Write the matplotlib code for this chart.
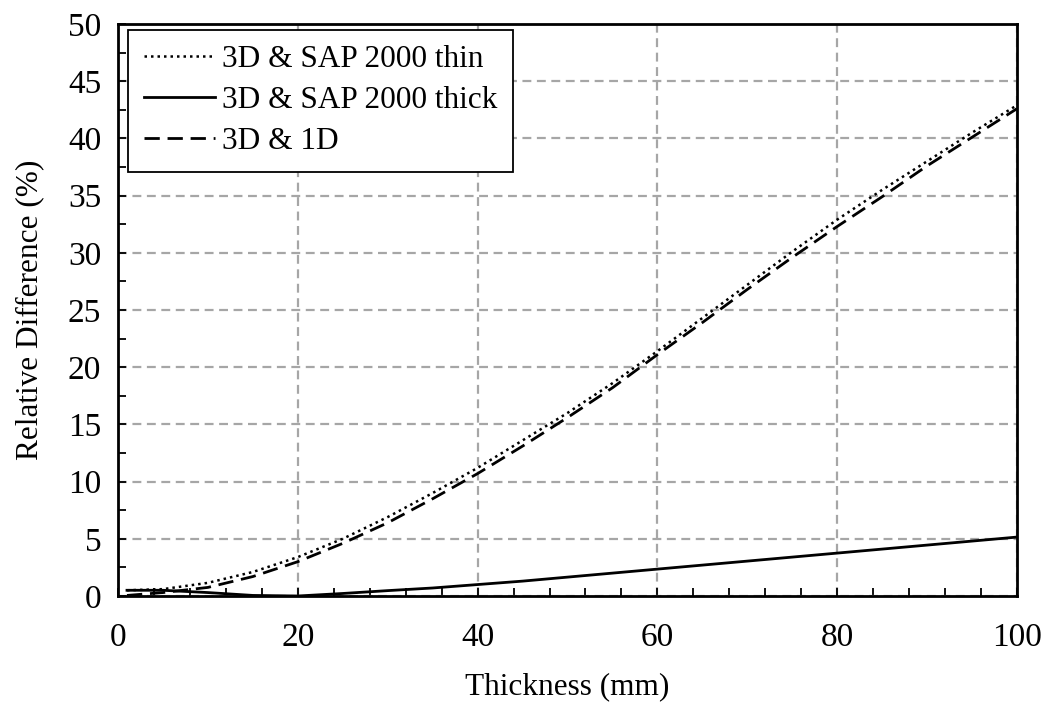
import matplotlib
matplotlib.use("Agg")
import matplotlib.pyplot as plt
from matplotlib.ticker import MultipleLocator

# Plate thickness (mm) and relative differences (%) between models
thickness = [1, 5, 10, 15, 20, 25, 30, 35, 40, 45, 50, 55, 60, 65, 70, 75, 80, 85, 90, 95, 100]
sap_thin = [0.5, 0.6, 1.15, 2.1, 3.4, 5.0, 6.9, 9.0, 11.2, 13.6, 16.0, 18.6, 21.4, 24.3,
            27.2, 30.1, 32.9, 35.5, 38.0, 40.5, 42.9]
sap_thick = [0.5, 0.5, 0.3, 0.05, 0.0, 0.22, 0.47, 0.7, 1.0, 1.3, 1.65, 2.0, 2.35, 2.7,
             3.05, 3.4, 3.75, 4.1, 4.45, 4.8, 5.15]
model_1d = [0.05, 0.3, 0.75, 1.7, 3.0, 4.6, 6.4, 8.5, 10.7, 13.1, 15.6, 18.2, 21.1, 23.9,
            26.8, 29.6, 32.3, 34.9, 37.6, 40.1, 42.6]

labels = ["3D & SAP 2000 thin", "3D & SAP 2000 thick", "3D & 1D"]

FS = 22.5
TICK_FS = 24
plt.rcParams["font.family"] = ["Liberation Serif", "DejaVu Serif"]
plt.rcParams["font.size"] = FS

fig = plt.figure(figsize=(10.48, 7.02), dpi=100)
ax = fig.add_axes([0.1126, 0.151, 0.8578, 0.8148])

ax.plot(thickness, sap_thin, color="black", lw=1.8, linestyle=(0, (1, 1.6)), label=labels[0])
ax.plot(thickness, sap_thick, color="black", lw=2.0, linestyle="-", label=labels[1])
ax.plot(thickness, model_1d, color="black", lw=2.0, linestyle=(0, (5.5, 2.8)), label=labels[2])

ax.set_xlim(0, 100)
ax.set_ylim(0, 50)
ax.xaxis.set_major_locator(MultipleLocator(20))
ax.xaxis.set_minor_locator(MultipleLocator(4))
ax.yaxis.set_major_locator(MultipleLocator(5))
ax.yaxis.set_minor_locator(MultipleLocator(2.5))

ax.tick_params(axis="x", which="both", direction="in", top=False, pad=19, labelsize=TICK_FS)
ax.tick_params(axis="y", which="both", direction="in", right=False, pad=12, labelsize=TICK_FS)
ax.tick_params(which="both", length=6, width=1.3)

ax.grid(True, which="major", color="#A6A6A6", linestyle=(0, (4, 2.5)), linewidth=1.6)
ax.set_axisbelow(True)

for sp in ax.spines.values():
    sp.set_linewidth(2.0)
    sp.set_color("black")

ax.set_xlabel("Thickness (mm)", fontsize=FS)
ax.set_ylabel("Relative Difference (%)", fontsize=FS)
ax.xaxis.set_label_coords(0.5, -0.133)
ax.yaxis.set_label_coords(-0.082, 0.5)

leg = ax.legend(loc="upper left", bbox_to_anchor=(0.011, 0.99), borderaxespad=0,
                fontsize=FS, frameon=True, fancybox=False,
                handlelength=2.3, handletextpad=0.2, labelspacing=0.38,
                borderpad=0.5)
leg.get_frame().set_edgecolor("black")
leg.get_frame().set_linewidth(1.3)
leg.get_frame().set_alpha(1.0)

fig.savefig("out.png", dpi=100)
